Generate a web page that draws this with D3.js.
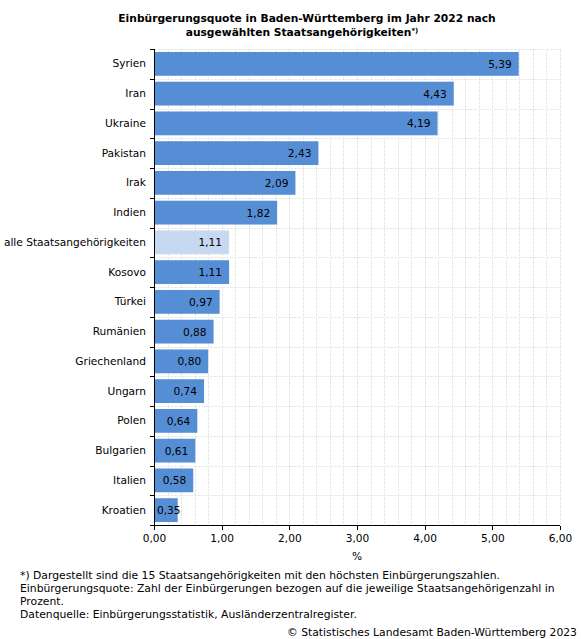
<!DOCTYPE html>
<html lang="de">
<head>
<meta charset="UTF-8" />
<title>Einbürgerungsquote</title>
<script src="https://cdn.jsdelivr.net/npm/d3@7"></script>
<style>
	body { margin: 0; background: #fff; }
	text { font-family: "DejaVu Sans", sans-serif; }
</style>
</head>
<body>
<svg id="vis" width="581" height="639"></svg>
<script>
	// Daten
	const laender = ["Syrien", "Iran", "Ukraine", "Pakistan", "Irak", "Indien",
		"alle Staatsangehörigkeiten", "Kosovo", "Türkei", "Rumänien", "Griechenland",
		"Ungarn", "Polen", "Bulgarien", "Italien", "Kroatien"];
	const quoten = [5.39, 4.43, 4.19, 2.43, 2.09, 1.82, 1.11, 1.11, 0.97, 0.88, 0.80,
		0.74, 0.64, 0.61, 0.58, 0.35];
	const xTicks = [0, 1, 2, 3, 4, 5, 6];
	const titel = ["Einbürgerungsquote in Baden-Württemberg im Jahr 2022 nach",
		"ausgewählten Staatsangehörigkeiten"];
	const fussnoten = [
		"*) Dargestellt sind die 15 Staatsangehörigkeiten mit den höchsten Einbürgerungszahlen.",
		"Einbürgerungsquote: Zahl der Einbürgerungen bezogen auf die jeweilige Staatsangehörigenzahl in",
		"Prozent.",
		"Datenquelle: Einbürgerungsstatistik, Ausländerzentralregister."];
	const quelle = "© Statistisches Landesamt Baden-Württemberg 2023";

	const de = d3.formatLocale({ decimal: ",", thousands: ".", grouping: [3], currency: ["", " €"] });
	const fmt = de.format(".2f");

	const mLeft = 154, mRight = 560, mTop = 49, mBottom = 525;
	const fs = 10.6;

	const svg = d3.select("#vis");

	// Titel
	const gTitel = svg.append("text")
		.attr("text-anchor", "middle")
		.attr("font-weight", "bold")
		.attr("font-size", 10.7)
		.attr("fill", "#000");
	gTitel.append("tspan").attr("x", 307).attr("y", 22).text(titel[0]);
	gTitel.append("tspan").attr("x", 302).attr("y", 36).text(titel[1]);
	gTitel.append("tspan").attr("dy", -3).attr("font-size", 7).text("*)");

	// Echelles
	let scaleX = d3.scaleLinear().domain([0, 6]).range([mLeft, mRight]);
	let scaleY = d3.scaleBand().domain(laender).range([mTop, mBottom]).paddingInner(0.2).paddingOuter(0.1);

	// Grille
	const gGrid = svg.append("g")
		.attr("stroke", "#e8e8e8")
		.attr("stroke-dasharray", "3,1")
		.attr("shape-rendering", "crispEdges");
	const minor = d3.range(1, 31).map(d => d * 0.2);
	gGrid.selectAll("line.v").data(minor).join("line")
		.attr("x1", d => Math.round(scaleX(d)) + 0.5).attr("x2", d => Math.round(scaleX(d)) + 0.5)
		.attr("y1", mTop).attr("y2", mBottom);
	const step = scaleY.step();
	const bounds = d3.range(0, laender.length).map(i => mTop + i * step);
	gGrid.selectAll("line.h").data(bounds).join("line")
		.attr("x1", mLeft).attr("x2", mRight)
		.attr("y1", d => Math.round(d) + 0.5).attr("y2", d => Math.round(d) + 0.5);

	// Barres
	const gBars = svg.append("g");
	gBars.selectAll("rect").data(laender).join("rect")
		.attr("x", scaleX(0) + 1)
		.attr("y", d => scaleY(d))
		.attr("width", (d, i) => scaleX(quoten[i]) - scaleX(0) - 1)
		.attr("height", scaleY.bandwidth())
		.attr("fill", d => d === "alle Staatsangehörigkeiten" ? "#c6d9f1" : "#558ed5");

	// Valeurs
	gBars.selectAll("text").data(laender).join("text")
		.attr("font-size", fs)
		.attr("fill", "#000")
		.attr("text-anchor", "end")
		.attr("y", d => scaleY(d) + scaleY.bandwidth() / 2 + 4)
		.text((d, i) => fmt(quoten[i]))
		.attr("x", function (d, i) {
			const w = this.getComputedTextLength();
			return Math.max(scaleX(quoten[i]) - 7, scaleX(0) + 3 + w);
		});

	// Axe Y
	const yAxis = d3.axisLeft(scaleY).tickSize(0).tickPadding(8);
	const gy = svg.append("g").attr("transform", "translate(" + mLeft + ",0)").call(yAxis);
	gy.select(".domain").remove();
	gy.selectAll("text").attr("font-size", fs).attr("fill", "#000").style("font-family", null);
	gy.append("line").attr("x1", 0.5).attr("x2", 0.5).attr("y1", mTop).attr("y2", mBottom)
		.attr("stroke", "#000").attr("shape-rendering", "crispEdges");
	gy.selectAll("line.tk").data(bounds.concat([mBottom])).join("line")
		.attr("class", "tk")
		.attr("x1", -4).attr("x2", 0)
		.attr("y1", d => Math.round(d) + 0.5).attr("y2", d => Math.round(d) + 0.5)
		.attr("stroke", "#000").attr("shape-rendering", "crispEdges");

	// Axe X
	const xAxis = d3.axisBottom(scaleX).tickValues(xTicks).tickFormat(fmt).tickSize(4).tickPadding(5);
	const gx = svg.append("g").attr("transform", "translate(0," + (mBottom + 0.5) + ")").call(xAxis);
	gx.select(".domain").attr("d", "M" + mLeft + ",0H" + mRight).attr("shape-rendering", "crispEdges");
	gx.selectAll(".tick line").attr("shape-rendering", "crispEdges");
	gx.selectAll("text").attr("font-size", fs).attr("fill", "#000").style("font-family", null);

	svg.append("text").attr("x", 357).attr("y", 560).attr("text-anchor", "middle")
		.attr("font-size", fs).text("%");

	// Notes
	svg.append("g").selectAll("text").data(fussnoten).join("text")
		.attr("x", 20).attr("y", (d, i) => 579 + i * 13)
		.attr("font-size", 10.8).attr("fill", "#000")
		.text(d => d);
	svg.append("text").attr("x", 577).attr("y", 636).attr("text-anchor", "end")
		.attr("font-size", 10.8).attr("fill", "#000").text(quelle);
</script>
</body>
</html>
